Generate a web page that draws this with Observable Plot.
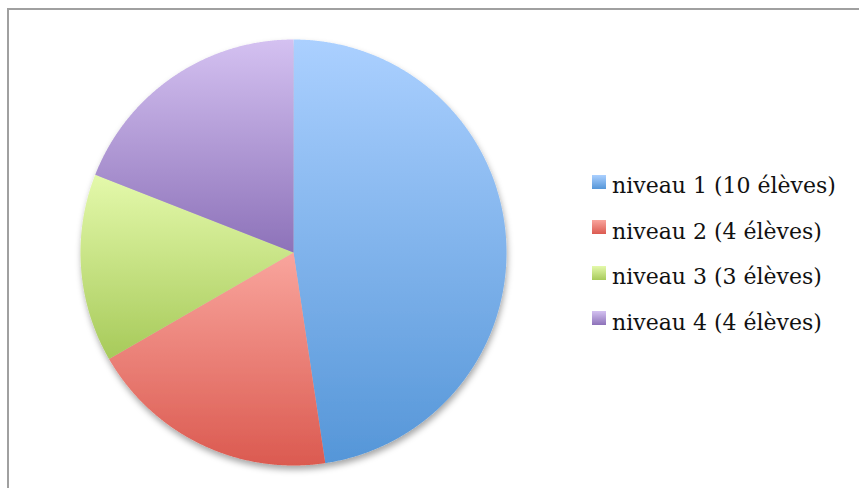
<!DOCTYPE html>
<html>
<head>
<meta charset="utf-8">
<script src="https://cdn.jsdelivr.net/npm/d3@7"></script>
<script src="https://cdn.jsdelivr.net/npm/@observablehq/plot@0.6"></script>
<style>
  html, body { margin: 0; padding: 0; background: #fff; overflow: hidden; }
  #wrap { position: relative; width: 859px; height: 488px; }
  #frame { position: absolute; left: 7px; top: 8px; width: 900px; height: 600px; border: 2px solid #a0a0a0; box-sizing: border-box; }
  #chart { position: absolute; left: 0; top: 0; }
  #legend { position: absolute; left: 592px; top: 163px; font-family: "DejaVu Serif", "Liberation Serif", serif; font-size: 22px; color: #111; }
  .row { display: flex; align-items: center; height: 45.5px; }
  .sw { width: 14px; height: 14px; margin-right: 6px; position: relative; top: -4px; }
</style>
</head>
<body>
<div id="wrap">
  <div id="frame"></div>
  <div id="chart"></div>
  <div id="legend"></div>
</div>
<script>
const categories = ["niveau 1 (10 élèves)", "niveau 2 (4 élèves)", "niveau 3 (3 élèves)", "niveau 4 (4 élèves)"];
const values = [10, 4, 3, 4];
const lightColors = ["#abd0ff", "#f9a59d", "#e4f9ab", "#d4c1f1"];
const darkColors = ["#5596d8", "#db5a50", "#a7ca5a", "#8d72b9"];

const arcs = d3.pie().sort(null).value(d => d)(values);

// polygon vertices for each slice (unit circle in data space)
const slices = arcs.map((a, i) => {
  const pts = [{x: 0, y: 0}];
  const n = Math.max(8, Math.ceil((a.endAngle - a.startAngle) / 0.005));
  for (let k = 0; k <= n; k++) {
    const t = a.startAngle + (a.endAngle - a.startAngle) * k / n;
    pts.push({x: Math.sin(t), y: Math.cos(t)});
  }
  pts.push({x: 0, y: 0});
  return pts;
});

const plot = Plot.plot({
  width: 859,
  height: 488,
  margin: 0,
  style: {background: "transparent", overflow: "visible"},
  x: {domain: [-1, 1], range: [80, 506], axis: null},
  y: {domain: [-1, 1], range: [465, 39], axis: null},
  marks: slices.map((pts, i) =>
    Plot.line(pts, {x: "x", y: "y", fill: `url(#grad${i})`, stroke: "none"})
  )
});

const svg = d3.select(plot);
const defs = svg.insert("defs", ":first-child");
categories.forEach((c, i) => {
  const g = defs.append("linearGradient").attr("id", `grad${i}`)
    .attr("x1", 0).attr("y1", 0).attr("x2", 0).attr("y2", 1);
  g.append("stop").attr("offset", "0%").attr("stop-color", lightColors[i]);
  g.append("stop").attr("offset", "100%").attr("stop-color", darkColors[i]);
});
const f = defs.append("filter").attr("id", "shadow")
  .attr("x", "-10%").attr("y", "-10%").attr("width", "120%").attr("height", "125%");
f.append("feDropShadow").attr("dx", 1).attr("dy", 4).attr("stdDeviation", 3)
  .attr("flood-color", "#000").attr("flood-opacity", 0.35);

const group = svg.append("g").attr("filter", "url(#shadow)");
svg.selectAll("g[aria-label='line']").each(function() { group.node().appendChild(this); });

document.getElementById("chart").appendChild(plot);

const legend = d3.select("#legend");
categories.forEach((c, i) => {
  const row = legend.append("div").attr("class", "row");
  row.append("div").attr("class", "sw")
    .style("background", `linear-gradient(${lightColors[i]}, ${darkColors[i]})`);
  row.append("span").text(c);
});
</script>
</body>
</html>
